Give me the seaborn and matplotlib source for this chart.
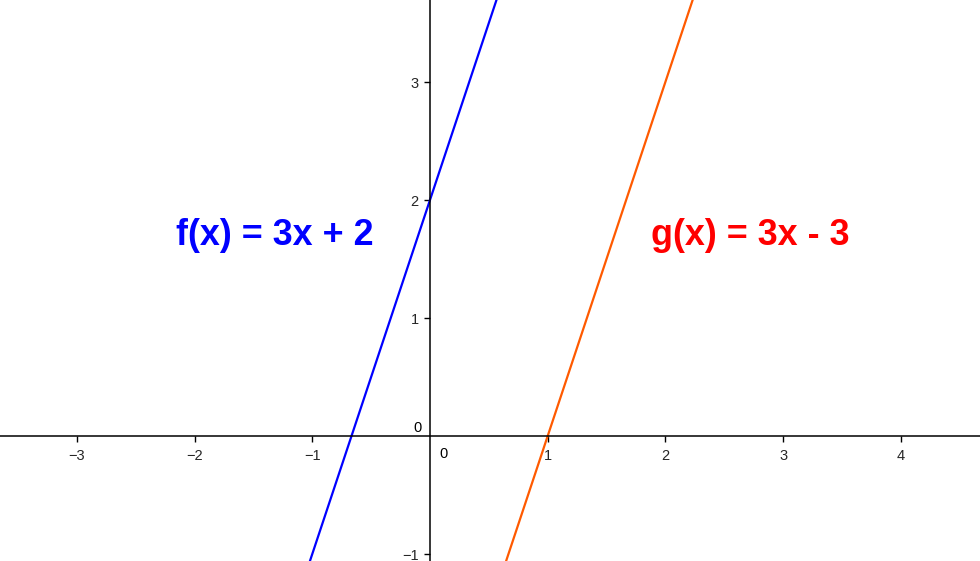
import matplotlib
matplotlib.use("Agg")
import matplotlib.pyplot as plt
import seaborn as sns
import pandas as pd

# Points (each line passes through these)
f_x = [-2.0, -1.0, 0.0, 1.0]
f_y = [-4.0, -1.0, 2.0, 5.0]
g_x = [0.0, 1.0, 2.0, 3.0]
g_y = [-3.0, 0.0, 3.0, 6.0]

x_ticks = [-3, -2, -1, 1, 2, 3, 4]
y_ticks = [-1, 1, 2, 3]

f_label = "f(x) = 3x + 2"
g_label = "g(x) = 3x - 3"

sns.set_theme(style="white")
plt.rcParams['font.family'] = ['Liberation Sans', 'DejaVu Sans']

fig = plt.figure(figsize=(9.8, 5.61), dpi=100)
ax = fig.add_axes([0, 0, 1, 1])

df_f = pd.DataFrame({"x": f_x, "y": f_y})
df_g = pd.DataFrame({"x": g_x, "y": g_y})
sns.lineplot(data=df_f, x="x", y="y", ax=ax, color="#0000ff", lw=1.6, sort=True)
sns.lineplot(data=df_g, x="x", y="y", ax=ax, color="#ff5a00", lw=1.6, sort=True)

ax.set_xlim(-3.653, 4.673)
ax.set_ylim(-1.059, 3.695)

for s in ["top", "right"]:
    ax.spines[s].set_visible(False)
ax.spines["left"].set_position(("data", 0))
ax.spines["bottom"].set_position(("data", 0))
for s in ["left", "bottom"]:
    ax.spines[s].set_color("black")
    ax.spines[s].set_linewidth(1.1)

ax.set_xticks(x_ticks)
ax.set_yticks(y_ticks)
ax.set_xticklabels([f"\u2212{abs(v)}" if v < 0 else str(v) for v in x_ticks])
ax.set_yticklabels([f"\u2212{abs(v)}" if v < 0 else str(v) for v in y_ticks])
ax.tick_params(axis="x", direction="out", length=4, width=1, color="black",
               labelsize=10.5, pad=5, bottom=True)
ax.tick_params(axis="y", direction="out", length=4, width=1, color="black",
               labelsize=10.5, pad=4, left=True)
ax.set_xlabel("")
ax.set_ylabel("")
ax.grid(False)

# Origin labels
ax.annotate("0", xy=(0, 0), xytext=(7, -8), textcoords="offset points",
            ha="left", va="top", fontsize=10.5, color="black")
ax.annotate("0", xy=(0, 0), xytext=(-6, 1), textcoords="offset points",
            ha="right", va="bottom", fontsize=10.5, color="black")

ax.text(-1.317, 1.703, f_label, color="#0000ff", fontsize=25.8, fontweight="bold",
        ha="center", va="center")
ax.text(2.719, 1.703, g_label, color="#ff0000", fontsize=25.8, fontweight="bold",
        ha="center", va="center")

fig.savefig("out.png", dpi=100)
